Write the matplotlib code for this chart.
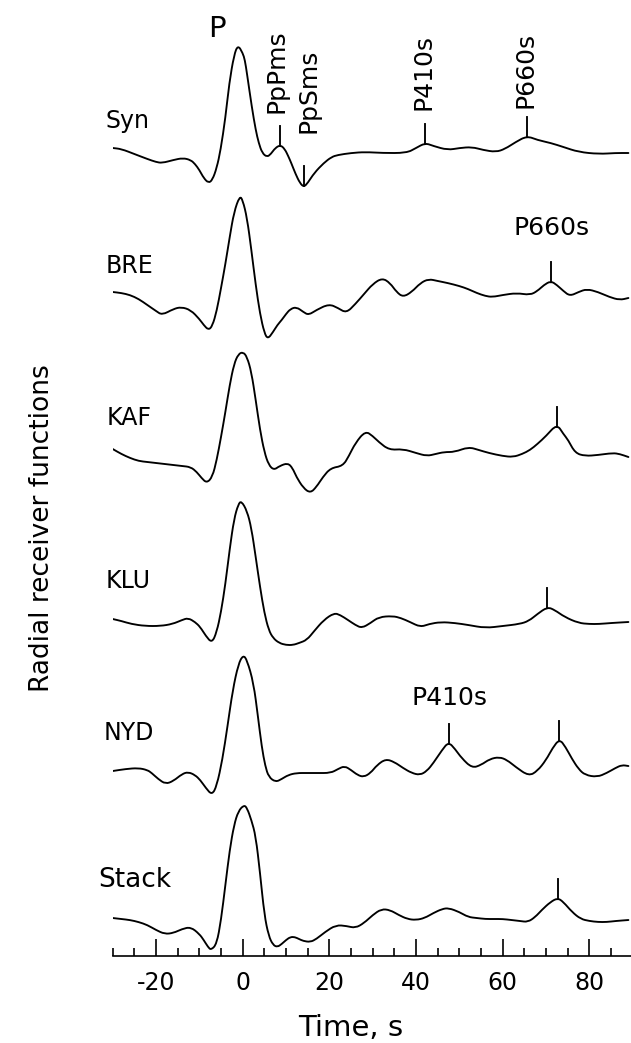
import numpy as np
import matplotlib
matplotlib.use("Agg")
import matplotlib.pyplot as plt
from matplotlib.ticker import MultipleLocator
from matplotlib.path import Path
from matplotlib.patches import PathPatch

# ---------------- data (time s, amplitude) ----------------
stations = ["Syn", "BRE", "KAF", "KLU", "NYD", "Stack"]

syn = [(-30, 0.00), (-28, -0.01), (-25, -0.06), (-22, -0.11), (-20, -0.14), (-18.6, -0.15),
       (-16, -0.12), (-13.8, -0.10), (-12, -0.12), (-11, -0.16), (-10, -0.22), (-9, -0.30),
       (-7.9, -0.35), (-7, -0.32), (-6, -0.20), (-5.1, -0.02), (-4, 0.30), (-3.1, 0.65),
       (-2, 0.93), (-1.1, 1.03), (0, 0.95), (0.5, 0.88), (1, 0.74), (2.1, 0.41), (3, 0.18),
       (3.7, 0.05), (4.5, -0.05), (5.6, -0.09), (6.5, -0.06), (7.5, 0.00), (8.7, 0.03),
       (9.7, -0.01), (10.5, -0.08), (11.2, -0.15), (12.2, -0.26), (13.2, -0.35), (14.1, -0.39),
       (15, -0.35), (16.5, -0.25), (18.7, -0.15), (20.5, -0.09), (21.9, -0.07), (25, -0.05),
       (28.3, -0.04), (32.2, -0.05), (37.8, -0.05), (40, 0.00), (42.1, 0.05), (44, 0.02),
       (47.3, -0.02), (50, 0.00), (52.9, 0.01), (55.5, -0.02), (58.4, -0.04), (60.5, -0.01),
       (63, 0.06), (65.6, 0.12), (68, 0.08), (71.1, 0.05), (74, 0.01), (77.5, -0.04),
       (82.2, -0.06), (86, -0.05), (89, -0.05)]

bre = [(-30, 0.00), (-28, -0.01), (-26, -0.03), (-24, -0.07), (-22, -0.13), (-20, -0.19),
       (-18.6, -0.23), (-16, -0.17), (-14.2, -0.15), (-12, -0.18), (-10, -0.27), (-9, -0.33),
       (-7.9, -0.38), (-7, -0.34), (-6, -0.19), (-5, 0.04), (-4, 0.28), (-3, 0.55), (-2, 0.80),
       (-0.7, 0.96), (0, 0.92), (1, 0.74), (2, 0.42), (3, 0.07), (4, -0.22), (5, -0.41),
       (5.8, -0.47), (7, -0.40), (8, -0.33), (9, -0.28), (10, -0.22), (11, -0.17), (12.4, -0.15),
       (14, -0.20), (15.2, -0.23), (17, -0.18), (19.9, -0.12), (22, -0.16), (23.9, -0.21),
       (26, -0.12), (28, -0.02), (30, 0.08), (32.2, 0.14), (34, 0.09), (35.5, 0.00),
       (37, -0.05), (39, 0.00), (41, 0.09), (42.9, 0.13), (45, 0.11), (47.3, 0.09), (50, 0.06),
       (52, 0.03), (54, -0.01), (56, -0.04), (57.6, -0.05), (60, -0.03), (63.2, -0.01),
       (66.3, -0.03), (68, 0.01), (69.5, 0.07), (71.1, 0.11), (72.5, 0.07), (74, 0.01),
       (75.5, -0.04), (77.5, 0.00), (79.4, 0.03), (82, 0.00), (84.6, -0.05), (87, -0.08),
       (89, -0.06)]

kaf = [(-30, -0.01), (-28, -0.06), (-26, -0.10), (-24, -0.13), (-22, -0.14), (-20, -0.15),
       (-18, -0.16), (-16, -0.17), (-14, -0.18), (-12, -0.19), (-10.6, -0.24), (-9.5, -0.30),
       (-8.3, -0.35), (-7, -0.29), (-6, -0.12), (-5, 0.11), (-4, 0.36), (-3, 0.63), (-2, 0.84),
       (-1, 0.94), (0.1, 0.96), (1, 0.91), (2, 0.76), (3, 0.48), (4, 0.18), (5, -0.04),
       (6, -0.17), (7.2, -0.22), (8.5, -0.18), (10.4, -0.15), (11.5, -0.20), (12.4, -0.29),
       (14, -0.40), (15.6, -0.45), (17, -0.39), (18.5, -0.29), (20.3, -0.20), (23.1, -0.18),
       (24.5, -0.08), (26, 0.05), (28.3, 0.17), (30, 0.12), (31.4, 0.06), (33.8, -0.02),
       (37, -0.01), (40, -0.05), (42.5, -0.08), (44.5, -0.06), (46.5, -0.04), (48.9, -0.04),
       (52.1, 0.01), (54.5, -0.02), (56.8, -0.05), (60, -0.08), (62.4, -0.09), (64.5, -0.06),
       (66.3, -0.02), (68, 0.04), (70, 0.12), (72.5, 0.24), (74, 0.14), (75.1, 0.08),
       (76.7, -0.05), (79, -0.08), (82, -0.07), (85.4, -0.05), (87, -0.06), (89, -0.09)]

klu = [(-30, 0.00), (-28, -0.02), (-25.7, -0.05), (-22.5, -0.07), (-19, -0.07), (-16.2, -0.05),
       (-14, -0.01), (-12.6, 0.01), (-11, -0.03), (-9.8, -0.08), (-8.5, -0.17), (-7.1, -0.24),
       (-6, -0.13), (-5, 0.07), (-4, 0.35), (-3, 0.70), (-2, 1.00), (-1, 1.15), (-0.3, 1.18),
       (1, 1.08), (2, 0.91), (3, 0.62), (4, 0.32), (5, 0.06), (6, -0.11), (7, -0.19),
       (8.4, -0.24), (10, -0.26), (11.6, -0.26), (13, -0.24), (14.8, -0.21), (16.5, -0.12),
       (18.7, -0.01), (21.1, 0.06), (22.5, 0.04), (24.3, -0.01), (26, -0.06), (27.5, -0.09),
       (29.5, -0.04), (31.4, 0.02), (34.6, 0.03), (36.5, 0.01), (38.6, -0.03), (41, -0.08),
       (43, -0.05), (45.7, -0.03), (49, -0.04), (52.1, -0.06), (56, -0.09), (60, -0.07),
       (63.9, -0.05), (66, -0.02), (68, 0.05), (70.3, 0.12), (72, 0.09), (74.3, 0.02),
       (77.5, -0.04), (80, -0.05), (82.2, -0.05), (85, -0.04), (89, -0.03)]

nyd = [(-30, 0.00), (-27, 0.02), (-24.1, 0.03), (-22, 0.01), (-21, -0.02), (-19.5, -0.08),
       (-17.8, -0.13), (-16, -0.10), (-14, -0.03), (-12.6, -0.01), (-11, -0.04), (-9.8, -0.09),
       (-8.5, -0.17), (-7.1, -0.24), (-6, -0.15), (-4.7, 0.11), (-3.5, 0.45), (-2.3, 0.81),
       (-1, 1.07), (0.1, 1.16), (1, 1.11), (2.5, 0.88), (3.5, 0.55), (4.4, 0.24), (5.2, 0.05),
       (6, -0.06), (7.6, -0.11), (9, -0.08), (10.5, -0.04), (12.4, -0.02), (15, -0.02),
       (17.1, -0.02), (20.3, -0.02), (22, 0.02), (23.5, 0.05), (25, 0.01), (26.5, -0.04),
       (27.9, -0.06), (29.5, -0.02), (31, 0.06), (33, 0.12), (35, 0.09), (37, 0.03), (39, -0.02),
       (40.9, -0.04), (42.5, 0.00), (44, 0.08), (46, 0.21), (47.5, 0.29), (49, 0.22),
       (50.5, 0.13), (52.9, 0.03), (55, 0.06), (57, 0.12), (59.2, 0.14), (61, 0.11), (63, 0.04),
       (66, -0.05), (68, 0.00), (70, 0.11), (71.5, 0.23), (73.1, 0.32), (74.5, 0.24),
       (76, 0.12), (77.5, 0.02), (79, -0.04), (81.8, -0.06), (84, -0.02), (86, 0.03),
       (87.5, 0.06), (89, 0.05)]

stack = [(-30, 0.00), (-28, -0.01), (-26, -0.02), (-24, -0.04), (-22, -0.07), (-20, -0.12),
         (-18, -0.16), (-16, -0.15), (-14, -0.11), (-12, -0.09), (-10, -0.16), (-9, -0.22),
         (-8, -0.29), (-7.3, -0.32), (-6, -0.26), (-5, -0.02), (-4, 0.33), (-3, 0.68),
         (-2, 0.93), (-1, 1.07), (0.3, 1.13), (1, 1.10), (2, 0.98), (3, 0.82), (4, 0.45),
         (5, 0.03), (6, -0.18), (7, -0.27), (8, -0.29), (9, -0.26), (10, -0.22), (11, -0.19),
         (12, -0.19), (13, -0.21), (14, -0.23), (15.6, -0.24), (17, -0.21), (19, -0.14),
         (21.5, -0.07), (24, -0.08), (26, -0.10), (28, -0.05), (30, 0.03), (32, 0.09),
         (34, 0.08), (36, 0.03), (38, -0.01), (40, -0.02), (42, 0.00), (44, 0.05), (46, 0.09),
         (47.5, 0.10), (50, 0.06), (52, 0.01), (54, 0.00), (56, -0.01), (58, -0.01),
         (60, -0.01), (62, -0.02), (64, -0.03), (65.8, -0.04), (67.5, 0.01), (69, 0.08),
         (71, 0.16), (72.7, 0.20), (74, 0.16), (76, 0.06), (78, -0.01), (80, -0.03),
         (82, -0.04), (84, -0.04), (86, -0.03), (89, -0.02)]

traces = [syn, bre, kaf, klu, nyd, stack]

# phase marker times (s) on each trace
markers = [[8.7, 14.1, 42.1, 65.6], [71.1], [72.5], [70.3], [47.5, 73.1], [72.7]]

xtick_major = [-20, 0, 20, 40, 60, 80]
xtick_labels = ["-20", "0", "20", "40", "60", "80"]

# ---------------- layout ----------------
offsets = [0.0, -1.44, -3.00, -4.71, -6.23, -7.70]
label_x = [-31.7, -31.7, -31.5, -31.7, -32.1, -33.3]
label_dy = [0.20, 0.19, 0.23, 0.31, 0.31, 0.31]
label_fs = [17, 17, 17, 17, 17, 19]
tick_len = 0.20
LW = 1.35

fig = plt.figure(figsize=(6.31, 10.43), dpi=100)
ax = fig.add_axes([0.1786, 0.0834, 0.8214, 0.9166])
ax.set_xlim(-30, 89.6)
ax.set_ylim(-8.08, 1.48)

FONT = "DejaVu Sans"


def smooth_trace(t, y):
    """Quadratic B-spline path through the read points (drawn by matplotlib)."""
    mx = (t[:-1] + t[1:]) / 2
    my = (y[:-1] + y[1:]) / 2
    verts = [(t[0], y[0]), (mx[0], my[0])]
    codes = [Path.MOVETO, Path.LINETO]
    for i in range(1, len(t) - 1):
        verts += [(t[i], y[i]), (mx[i], my[i])]
        codes += [Path.CURVE3, Path.CURVE3]
    verts.append((t[-1], y[-1]))
    codes.append(Path.LINETO)
    return Path(verts, codes)


def curve_value(t, y, tm):
    """Height of the drawn curve at the read point closest to tm."""
    i = int(np.argmin(np.abs(t - tm)))
    if 0 < i < len(t) - 1:
        return 0.25 * (y[i - 1] + y[i]) / 2 + 0.5 * y[i] + 0.25 * (y[i] + y[i + 1]) / 2
    return y[i]


for tr, off, name, lx, ldy, lfs, mk in zip(traces, offsets, stations, label_x,
                                           label_dy, label_fs, markers):
    t = np.array([p[0] for p in tr], dtype=float)
    a = np.array([p[1] for p in tr], dtype=float) + off
    ax.add_patch(PathPatch(smooth_trace(t, a), fill=False, edgecolor="black",
                           lw=LW, joinstyle="round", capstyle="round"))
    for m in mk:
        base = curve_value(t, a, m)
        ax.plot([m, m], [base, base + tick_len], color="black", lw=LW)
    ax.text(lx, off + ldy, name, ha="left", va="baseline", fontsize=lfs,
            family=FONT, clip_on=False)

# phase labels
ax.text(-5.9, 1.11, "P", ha="center", va="baseline", fontsize=21, family=FONT)
for x, yb, s in [(7.7, 0.35, "PpPms"), (15.1, 0.15, "PpSms"),
                 (41.7, 0.38, "P410s"), (65.2, 0.40, "P660s")]:
    ax.text(x, yb, s, rotation=90, ha="center", va="bottom", fontsize=18, family=FONT)
ax.text(71.3, offsets[1] + 0.57, "P660s", ha="center", va="baseline", fontsize=18, family=FONT)
ax.text(47.7, offsets[4] + 0.66, "P410s", ha="center", va="baseline", fontsize=18, family=FONT)

# axes styling
for sp in ["top", "right", "left"]:
    ax.spines[sp].set_visible(False)
ax.spines["bottom"].set_linewidth(1.2)
ax.yaxis.set_visible(False)
ax.set_xticks(xtick_major)
ax.set_xticklabels(xtick_labels, family=FONT, fontsize=17)
ax.xaxis.set_minor_locator(MultipleLocator(5))
ax.tick_params(axis="x", which="major", direction="in", length=12, width=1.2, pad=11)
ax.tick_params(axis="x", which="minor", direction="in", length=5.5, width=1.2)

fig.text(0.067, 0.494, "Radial receiver functions", rotation=90, ha="center",
         va="center", fontsize=19, family=FONT)
fig.text(0.556, 0.0067, "Time, s", ha="center", va="baseline", fontsize=21, family=FONT)

fig.savefig("out.png", dpi=100)
